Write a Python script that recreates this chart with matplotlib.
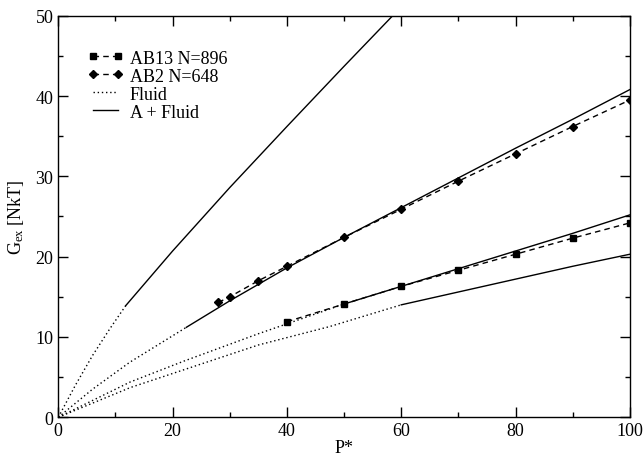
import numpy as np
import matplotlib
matplotlib.use("Agg")
import matplotlib.pyplot as plt
from matplotlib.ticker import MultipleLocator

plt.rcParams['font.family'] = ['Liberation Serif', 'DejaVu Serif']
plt.rcParams['mathtext.fontset'] = 'custom'
plt.rcParams['mathtext.rm'] = 'Liberation Serif'
plt.rcParams['mathtext.it'] = 'Liberation Serif:italic'

# simulation data
p_ab13 = [40, 50, 60, 70, 80, 90, 100]
g_ab13 = [11.9, 14.1, 16.3, 18.3, 20.3, 22.3, 24.2]
p_ab2 = [28, 30, 35, 40, 50, 60, 70, 80, 90, 100]
g_ab2 = [14.3, 15.0, 17.0, 18.8, 22.4, 25.9, 29.4, 32.8, 36.2, 39.5]

# fluid branches (dotted)
p_fl1 = [0, 3, 6, 9, 11.8]
g_fl1 = [0, 4.0, 7.7, 11.0, 13.9]
p_fl2 = [0, 6, 12.5, 22.4]
g_fl2 = [0, 3.5, 6.85, 11.2]
p_fl3 = [0, 12.6, 22, 35, 50]
g_fl3 = [0, 4.4, 7.0, 10.4, 14.1]
p_fl4 = [0, 12.6, 35, 47.5, 60]
g_fl4 = [0, 3.7, 9.0, 11.3, 14.0]

# A + fluid branches (solid)
p_af1 = [11.8, 20, 30, 40, 50, 60]
g_af1 = [13.9, 20.7, 28.6, 36.2, 43.7, 51.1]
p_af2 = [22.4, 30, 40, 50, 60, 70, 80, 90, 100]
g_af2 = [11.2, 14.5, 18.6, 22.4, 26.1, 29.8, 33.5, 37.1, 40.8]
p_af3 = [50, 60, 70, 80, 90, 100]
g_af3 = [14.1, 16.3, 18.5, 20.7, 22.9, 25.2]
p_af4 = [60, 70, 80, 90, 100]
g_af4 = [14.0, 15.6, 17.2, 18.8, 20.3]

fig = plt.figure(figsize=(6.44, 4.56), dpi=100)
ax = fig.add_axes([0.0905, 0.0827, 0.8875, 0.8807])

dot = dict(color='black', lw=1.0, ls=(0, (1, 2)))
sol = dict(color='black', lw=1.0)
for p, g in [(p_fl1, g_fl1), (p_fl2, g_fl2), (p_fl3, g_fl3), (p_fl4, g_fl4)]:
    ax.plot(p, g, **dot)
for p, g in [(p_af1, g_af1), (p_af2, g_af2), (p_af3, g_af3), (p_af4, g_af4)]:
    ax.plot(p, g, **sol)

ax.plot(p_ab13, g_ab13, color='black', lw=1.0, ls=(0, (4, 3)), marker='s', ms=5,
        label='AB13 N=896')
ax.plot(p_ab2, g_ab2, color='black', lw=1.0, ls=(0, (4, 3)), marker='D', ms=4.5,
        label='AB2 N=648')
ax.plot([], [], label='Fluid', **dot)
ax.plot([], [], label='A + Fluid', **sol)

ax.set_xlim(0, 100)
ax.set_ylim(0, 50)
ax.xaxis.set_major_locator(MultipleLocator(20))
ax.xaxis.set_minor_locator(MultipleLocator(10))
ax.yaxis.set_major_locator(MultipleLocator(10))
ax.yaxis.set_minor_locator(MultipleLocator(5))
ax.tick_params(which='both', direction='in', top=True, right=True, labelsize=13, width=1)
ax.tick_params(which='major', length=7)
ax.tick_params(which='minor', length=3.5)
for s in ax.spines.values():
    s.set_linewidth(1)

ax.set_xlabel('P*', fontsize=13, labelpad=0)
ax.set_ylabel(r'G$_{\mathrm{ex}}$ [NkT]', fontsize=13, labelpad=7)

leg = ax.legend(loc='upper left', bbox_to_anchor=(0.038, 0.933), frameon=False,
                numpoints=2, handlelength=2.0, handletextpad=0.35,
                labelspacing=0.05, fontsize=13, borderaxespad=0)

fig.savefig('out.png', dpi=100)
